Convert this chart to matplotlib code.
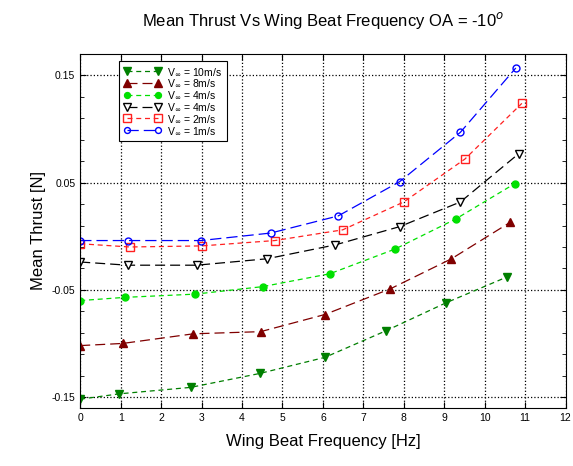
import matplotlib
matplotlib.use("Agg")
import matplotlib.pyplot as plt
from matplotlib.ticker import MultipleLocator, FixedLocator

plt.rcParams['font.family'] = ['Liberation Sans', 'DejaVu Sans']

# wing beat frequency [Hz] and mean thrust [N] per free stream velocity
f_10 = [0.0, 0.97, 2.73, 4.44, 6.05, 7.57, 9.05, 10.55]
t_10 = [-0.152, -0.147, -0.141, -0.128, -0.113, -0.088, -0.062, -0.038]

f_8 = [0.0, 1.05, 2.80, 4.46, 6.05, 7.67, 9.18, 10.63]
t_8 = [-0.102, -0.100, -0.091, -0.089, -0.073, -0.049, -0.021, 0.013]

f_4a = [0.0, 1.11, 2.84, 4.51, 6.17, 7.78, 9.28, 10.74]
t_4a = [-0.060, -0.057, -0.054, -0.047, -0.035, -0.012, 0.016, 0.049]

f_4b = [0.0, 1.17, 2.88, 4.62, 6.31, 7.90, 9.40, 10.84]
t_4b = [-0.024, -0.027, -0.027, -0.021, -0.008, 0.009, 0.032, 0.077]

f_2 = [0.0, 1.23, 3.00, 4.81, 6.49, 8.00, 9.51, 10.92]
t_2 = [-0.007, -0.010, -0.009, -0.004, 0.006, 0.032, 0.072, 0.124]

f_1 = [0.0, 1.17, 2.98, 4.71, 6.38, 7.90, 9.40, 10.77]
t_1 = [-0.004, -0.004, -0.004, 0.003, 0.019, 0.051, 0.097, 0.157]

labels = ['10m/s', '8m/s', '4m/s', '4m/s', '2m/s', '1m/s']
y_ticks = [-0.15, -0.05, 0.05, 0.15]

fig = plt.figure(figsize=(5.73, 4.66), dpi=100)
ax = fig.add_axes([0.14, 0.125, 0.847, 0.759])

ax.plot(f_10, t_10, color='#007f00', ls=(0, (4, 3)), lw=0.9, marker='v', ms=6,
        label='V$_\\infty$ = ' + labels[0])
ax.plot(f_8, t_8, color='#800000', ls=(0, (8, 4)), lw=0.9, marker='^', ms=6,
        label='V$_\\infty$ = ' + labels[1])
ax.plot(f_4a, t_4a, color='#00e000', ls=(0, (4, 3)), lw=0.9, marker='o', ms=5,
        label='V$_\\infty$ = ' + labels[2])
ax.plot(f_4b, t_4b, color='black', ls=(0, (8, 4)), lw=0.9, marker='v', ms=6,
        mfc='white', label='V$_\\infty$ = ' + labels[3])
ax.plot(f_2, t_2, color='#ff2020', ls=(0, (4, 3)), lw=0.9, marker='s', ms=6,
        mfc='none', label='V$_\\infty$ = ' + labels[4])
ax.plot(f_1, t_1, color='#0000ff', ls=(0, (9, 4)), lw=0.9, marker='o', ms=5,
        mfc='none', label='V$_\\infty$ = ' + labels[5])

ax.set_xlim(0, 12)
ax.set_ylim(-0.16, 0.17)
ax.xaxis.set_major_locator(MultipleLocator(1))
ax.yaxis.set_major_locator(FixedLocator(y_ticks))
ax.yaxis.set_minor_locator(FixedLocator([-0.15 + 0.02 * i for i in range(16)]))
ax.set_yticklabels(['-0.15', '-0.05', '0.05', '0.15'])
ax.tick_params(which='both', direction='in', top=True, right=True, labelsize=7.5)
ax.tick_params(which='major', length=4)
ax.tick_params(which='minor', length=3)
ax.grid(True, which='major', color='black', ls=':', lw=0.9)

ax.set_xlabel('Wing Beat Frequency [Hz]', fontsize=12, labelpad=8)
ax.set_ylabel('Mean Thrust [N]', fontsize=12)
ax.set_title('Mean Thrust Vs Wing Beat Frequency OA = -10$^o$', fontsize=12, pad=20)

leg = ax.legend(loc='upper left', bbox_to_anchor=(0.07, 0.995), fontsize=7.5,
                numpoints=2, handlelength=3.6, handletextpad=0.5,
                labelspacing=0.0, borderpad=0.45, markerscale=0.85,
                fancybox=False, framealpha=1, edgecolor='black')
leg.get_frame().set_linewidth(0.8)

fig.savefig('out.png', dpi=100)
